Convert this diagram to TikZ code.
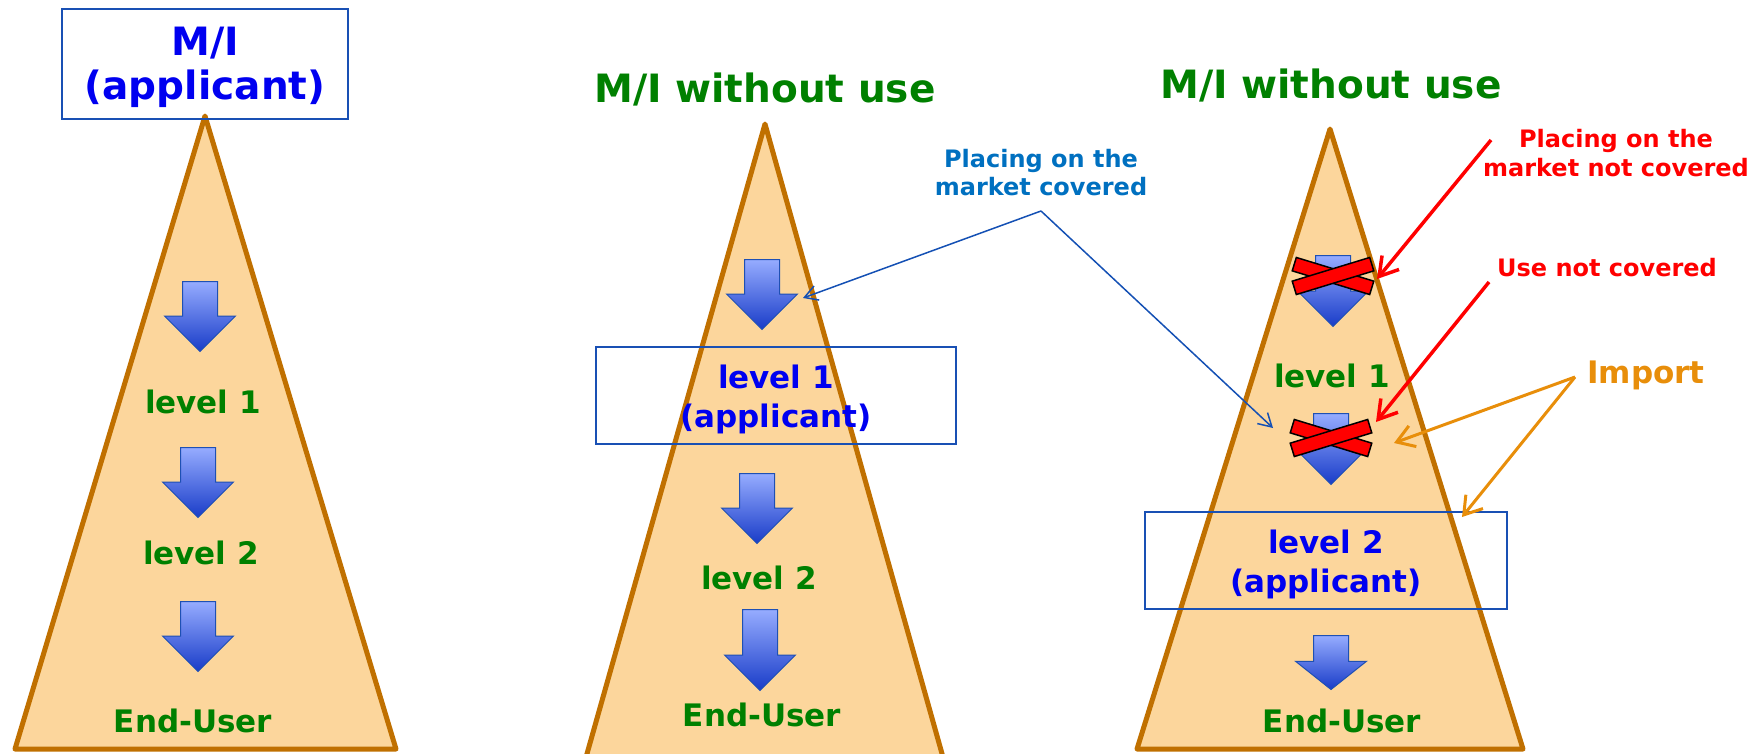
\documentclass[tikz,border=0pt]{standalone}
\usepackage{fontspec}
\setmainfont{DejaVu Sans}
\usetikzlibrary{shapes.arrows,arrows.meta,calc}

\definecolor{trifill}{RGB}{252,214,156}
\definecolor{triedge}{RGB}{192,112,0}
\definecolor{boxedge}{RGB}{25,80,180}
\definecolor{txtblue}{RGB}{0,0,240}
\definecolor{txtgreen}{RGB}{0,128,0}
\definecolor{lblblue}{RGB}{0,112,192}
\definecolor{lnblue}{RGB}{20,80,180}
\definecolor{txtred}{RGB}{255,0,0}
\definecolor{orng}{RGB}{232,142,10}
\definecolor{arrtop}{RGB}{150,172,255}
\definecolor{arrbot}{RGB}{25,60,200}
\definecolor{arredge}{RGB}{30,80,180}

\newcommand\fsz[2]{\fontsize{#1}{#2}\selectfont\bfseries}

\begin{document}
\begin{tikzpicture}[x=1pt,y=-1pt,
  pyramid/.style={draw=triedge,fill=trifill,line width=5pt,line join=round},
  appbox/.style={draw=boxedge,line width=2pt,rectangle,inner sep=0pt},
  blockarrow/.style={single arrow,rotate=-90,anchor=tail,draw=arredge,line width=1pt,
    inner xsep=0pt,inner ysep=17pt,single arrow head extend=18pt,
    single arrow tip angle=90,top color=arrtop,bottom color=arrbot},
  crossbar/.style={rectangle,fill=red,draw=black,line width=1.5pt,
    minimum width=81pt,minimum height=14pt,inner sep=0pt},
  txt/.style={inner sep=0pt,align=center},
  big/.style={txt,font=\fsz{39}{44}},
  mid/.style={txt,font=\fsz{31}{39}},
  small/.style={txt,font=\fsz{24}{28}},
  bluelink/.style={draw=lnblue,line width=1.5pt,-{Straight Barb[length=13pt,width=15pt]}},
  redlink/.style={draw=txtred,line width=3.5pt,-{Straight Barb[length=18pt,width=22pt]}},
  orangelink/.style={draw=orng,line width=3pt,-{Straight Barb[length=17pt,width=22pt]}}]

\useasboundingbox (0,0) rectangle (1762,753);
\clip (0,0) rectangle (1762,753);

% the three supply-chain pyramids
\draw[pyramid] (205,116) -- (396,749) -- (15,749) -- cycle;
\draw[pyramid] (765,124) -- (948,775) -- (581,775) -- cycle;
\draw[pyramid] (1330,129) -- (1523,749) -- (1137,749) -- cycle;

% ---------- first chain ----------
\node[appbox,minimum width=286pt,minimum height=110pt] (box1) at (205,64) {};
\node[big,txtblue,anchor=north] (box1t) at (205,27) {M/I\\(applicant)};
\node[blockarrow,minimum height=70pt] (a11) at (200,281) {};
\node[mid,txtgreen,anchor=base] (l11) at (203,413) {level 1};
\node[blockarrow,minimum height=70pt] (a12) at (198,447) {};
\node[mid,txtgreen,anchor=base] (l12) at (201,564) {level 2};
\node[blockarrow,minimum height=70pt] (a13) at (198,601) {};
\node[mid,txtgreen,anchor=base] (eu1) at (193,732) {End-User};

% ---------- second chain ----------
\node[big,txtgreen,anchor=base] (title2) at (765,102) {M/I without use};
\node[blockarrow,minimum height=70pt] (a21) at (762,259) {};
\node[appbox,minimum width=360pt,minimum height=97pt] (box2) at (776,395.5) {};
\node[mid,txtblue,anchor=north] (box2t) at (776,365) {level 1\\(applicant)};
\node[blockarrow,minimum height=70pt] (a22) at (757,473) {};
\node[mid,txtgreen,anchor=base] (l22) at (759,589) {level 2};
\node[blockarrow,minimum height=81pt] (a23) at (760,609) {};
\node[mid,txtgreen,anchor=base] (eu2) at (762,726) {End-User};

% ---------- third chain ----------
\node[big,txtgreen,anchor=base] (title3) at (1331,98) {M/I without use};
\node[blockarrow,minimum height=71pt] (a31) at (1333,255) {};
\node[crossbar,rotate=-17] (x1a) at (1333,276) {};
\node[crossbar,rotate=17] (x1b) at (1333,276) {};
\node[mid,txtgreen,anchor=base] (l31) at (1332,387) {level 1};
\node[blockarrow,minimum height=71pt] (a32) at (1331,413) {};
\node[crossbar,rotate=-17] (x2a) at (1331,438) {};
\node[crossbar,rotate=17] (x2b) at (1331,438) {};
\node[appbox,minimum width=362pt,minimum height=97pt] (box3) at (1326,560.5) {};
\node[mid,txtblue,anchor=north] (box3t) at (1326,530) {level 2\\(applicant)};
\node[blockarrow,minimum height=54pt,single arrow tip angle=103] (a33) at (1331,635) {};
\node[mid,txtgreen,anchor=base] (eu3) at (1342,732) {End-User};

% ---------- annotations ----------
\node[small,lblblue,anchor=north] (pomc) at (1041,149) {Placing on the\\market covered};
\coordinate (pv) at (1041,211);
\coordinate (pt1) at (803,298);
\coordinate (pt2) at (1273,428);
\draw[bluelink] (pv) -- (pt1);
\draw[bluelink] (pv) -- (pt2);

\node[small,txtred,anchor=north,font=\fsz{24}{29}] (pnc) at (1616,129) {Placing on the\\market not covered};
\coordinate (r1s) at (1491,140);
\coordinate (r1e) at (1377,279);
\draw[redlink] (r1s) -- (r1e);

\node[small,txtred,anchor=base] (unc) at (1607,276) {Use not covered};
\coordinate (r2s) at (1489,282);
\coordinate (r2e) at (1376,422);
\draw[redlink] (r2s) -- (r2e);

\node[mid,orng,anchor=base] (imp) at (1646,383) {Import};
\coordinate (ov) at (1575,377);
\coordinate (oe1) at (1394,443);
\coordinate (oe2) at (1462,517);
\draw[orangelink] (ov) -- (oe1);
\draw[orangelink] (ov) -- (oe2);
\end{tikzpicture}
\end{document}
